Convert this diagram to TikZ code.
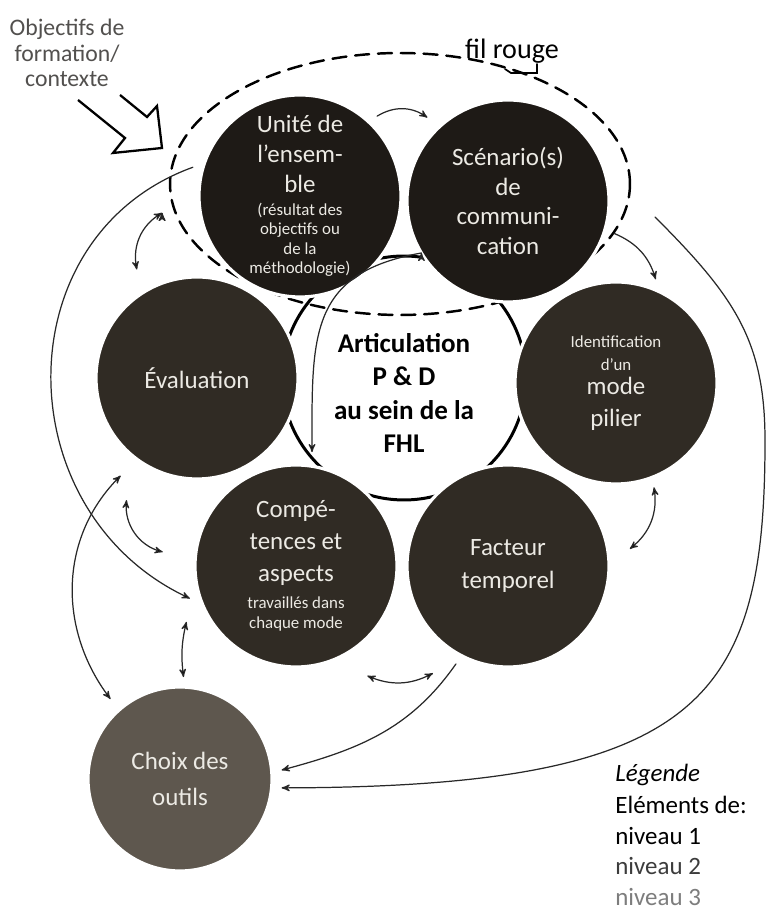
\documentclass[tikz,border=0pt]{standalone}
\usepackage{fontspec}
\setmainfont{Carlito}
\usetikzlibrary{arrows,shapes.geometric}

\definecolor{niveauA}{RGB}{30,26,22}
\definecolor{niveauB}{RGB}{48,43,36}
\definecolor{niveauC}{RGB}{94,87,78}
\definecolor{clair}{RGB}{236,234,228}
\definecolor{trait}{RGB}{40,40,40}
\definecolor{grisA}{RGB}{82,80,78}
\definecolor{grisB}{RGB}{60,60,60}
\definecolor{grisC}{RGB}{125,125,125}
\newcommand{\grand}{\fontsize{14.2}{17}\selectfont}
\newcommand{\petit}{\fontsize{9.6}{11}\selectfont}

\begin{document}
\begin{tikzpicture}[>=stealth',x=0.02cm,y=0.02cm,line cap=round]
  \tikzstyle{bulle}=[circle,minimum size=4.04cm,inner sep=0pt,outer sep=0.2cm,
                     draw=white,line width=1.8pt,text=clair,align=center,font=\grand]
  \tikzstyle{lien}=[draw=trait,line width=0.7pt]
  \tikzstyle{legende}=[anchor=base west,inner sep=0pt,font=\grand]

  \useasboundingbox (0,0) rectangle (768,911);
  \fill[white] (0,0) rectangle (768,911);

  % cercle central
  \node[circle,draw,line width=1.7pt,fill=white,minimum size=4.88cm] (A) at (404,533) {};
  \node[align=center,font=\fontsize{15.4}{18.8}\selectfont\bfseries] (titre)
    at ([shift={(0,-15)}]A.center) {Articulation\\P \& D\\au sein de la\\FHL};

  % fil rouge
  \node[ellipse,draw,line width=1.4pt,dash pattern=on 8pt off 5pt,
        minimum width=9.2cm,minimum height=5.24cm,inner sep=0pt] (fil) at (400,727) {};
  \node[anchor=base,font=\fontsize{16}{18}\selectfont] (fr) at (512,852) {fil rouge};
  \draw[line width=1pt] ([shift={(-7,-10)}]fr.base) -- ++(6,-4) -- ++(26,0) -- ++(0,9);

  % bulles
  \node[bulle,fill=niveauA] (U) at (300,715)
    {Unité de\\l’ensem-\\ble\\[-4pt]\petit (résultat des\\[-6pt]\petit objectifs ou\\[-6pt]\petit de la\\[-6pt]\petit méthodologie)};
  \node[bulle,fill=niveauA] (S) at (508,710) {Scénario(s)\\de\\communi-\\cation};
  \node[bulle,fill=niveauB] (E) at (197,533) {Évaluation};
  \node[bulle,fill=niveauB] (I) at (616,528)
    {\petit Identification\\[-4pt]\petit d’un\\[-3pt]mode\\[1pt]pilier};
  \node[bulle,fill=niveauB] (C) at (296,345)
    {Compé-\\[1pt]tences et\\[1pt]aspects\\[-1.6pt]\petit travaillés dans\\[-5.6pt]\petit chaque mode};
  \node[bulle,fill=niveauB] (F) at (508,345) {Facteur\\[2pt]temporel};
  \node[bulle,fill=niveauC,minimum size=3.68cm] (Ch) at (180,132) {Choix des\\[3pt]outils};

  % objectifs
  \node[align=center,text=grisA,font=\fontsize{13.5}{14.5}\selectfont] (obj) at (67,858)
    {Objectifs de\\formation/\\contexte};
  \draw[line width=1.3pt,line join=miter,line cap=butt] (120,816) -- (147,794) -- (157,805)
    -- (162,763) -- (113,758) -- (125,773) -- (78,811);

  % liens
  \path[lien,->] (U.46) edge[bend left=33] ([shift={(134:5)}]S.134)
                 (S.-17) edge[bend left=25] (I.69)
                 (F.-118) edge[out=-125,in=15] (Ch.5)
                 (U.165) edge[out=200,in=155,looseness=1.2] (C.197)
                 ([shift={(211:-10)}]S.211) edge[out=190,in=90,looseness=1.3] ([shift={(82:4)}]C.82);
  \path[lien,<->] (I.-70) edge[bend left=30] ([shift={(8:12)}]F.8)
                  ([shift={(-57:20)}]C.-57) edge[bend right=25] ([shift={(-125:20)}]F.-125)
                  ([shift={(232:13)}]E.232) edge[out=225,in=127] ([shift={(131:4)}]Ch.131)
                  ([shift={(240:30)}]E.240) edge[bend right=40] ([shift={(174:23)}]C.174)
                  ([shift={(207:12)}]C.207) edge[bend right=10] (Ch.88)
                  ([shift={(187:28)}]U.187) edge[bend right=35] ([shift={(119:13)}]E.119);
  \coordinate (depart) at (655,694);
  \draw[lien,->] (depart) .. controls (735,614) and (765,570) .. (765,470)
    .. controls (765,210) and (700,124) .. (Ch.-5);

  % legende
  \node[legende,font=\grand\itshape] (leg) at (615,129) {Légende};
  \node[legende] (elt) at ([shift={(0,-32)}]leg.base west) {Eléments de:};
  \node[legende,text=black] (n1) at ([shift={(0,-31)}]elt.base west) {niveau 1};
  \node[legende,text=grisB] (n2) at ([shift={(0,-30)}]n1.base west) {niveau 2};
  \node[legende,text=grisC] (n3) at ([shift={(0,-30)}]n2.base west) {niveau 3};
\end{tikzpicture}
\end{document}
